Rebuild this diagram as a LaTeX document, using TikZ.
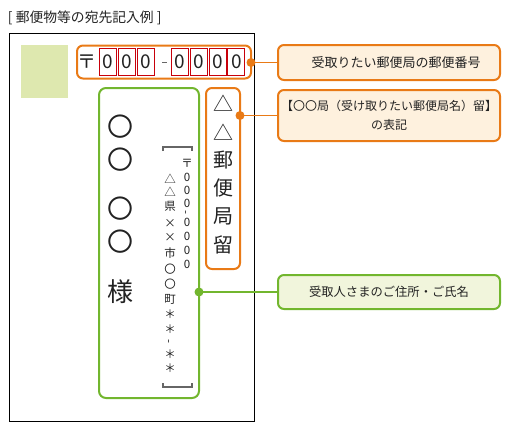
\documentclass[tikz,border=0pt]{standalone}
\usepackage{fontspec}
\setmainfont{Noto Sans CJK JP}
\definecolor{org}{HTML}{E97A16}
\definecolor{orgfill}{HTML}{FEF1DE}
\definecolor{grn}{HTML}{72B62E}
\definecolor{grnfill}{HTML}{F1F5DC}
\definecolor{stampc}{HTML}{DEE8AF}
\definecolor{redbox}{HTML}{C8000A}
\definecolor{txt}{HTML}{222222}
\definecolor{brk}{HTML}{666666}
\tikzset{
  box/.style={inner sep=0pt, outer sep=0pt},
  callout/.style={box, rounded corners=6pt, line width=2pt, minimum width=222pt, align=center, text=txt, font=\fontsize{12.3}{19}\selectfont},
  digitbox/.style={box, draw=redbox, line width=0.9pt, minimum width=17pt, minimum height=27pt, text=txt, font=\fontsize{19}{19}\selectfont},
  vchar/.style={box, text=txt, font=\fontsize{20}{20}\selectfont},
  bigchar/.style={box, text=txt, font=\fontsize{26}{26}\selectfont},
  addr/.style={box, text=txt, font=\fontsize{11.5}{11.5}\selectfont},
  dotc/.style={circle, inner sep=0pt, minimum size=9pt},
  conn/.style={line width=1.6pt}
}
\begin{document}
\begin{tikzpicture}[x=1pt,y=-1pt]
\useasboundingbox (0,0) rectangle (505,429);

% title
\node[box, anchor=west, text=txt, font=\fontsize{13.8}{14}\selectfont] (title) at (8,18) {[ 郵便物等の宛先記入例 ]};

% envelope
\node[box, draw=black, line width=1pt, minimum width=245pt, minimum height=388pt, anchor=north west] (env) at (9,33) {};

% stamp
\node[box, fill=stampc, minimum width=47pt, minimum height=53pt, anchor=north west] (stamp) at (21,45) {};

% postcode box
\node[box, draw=org, line width=2pt, rounded corners=6pt, minimum width=174pt, minimum height=33pt, anchor=north west] (pc) at (77,45.5) {};
\node[box, text=txt, font=\fontsize{19}{19}\selectfont] (yubin) at (87,62) {〒};
\foreach \x [count=\i] in {108,126.8,145.6,180,198.8,217.6,236.4}
  \node[digitbox] (d\i) at (\x,61.5) {0};
\draw[brk, line width=1.3pt] (d3.east) ++(8,1) coordinate (dashA) -- ++(5,0) coordinate (dashB);

% vertical orange box
\node[box, draw=org, line width=2pt, rounded corners=6pt, minimum width=34pt, minimum height=181pt, anchor=north west] (vbox) at (206,88) {};
\foreach \c/\y [count=\i] in {△/103,△/132,郵/160,便/188,局/216,留/245}
  \node[vchar] (v\i) at (223,\y) {\c};

% green box
\node[box, draw=grn, line width=2pt, rounded corners=7pt, minimum width=100pt, minimum height=310pt, anchor=north west] (gbox) at (99,88) {};
\foreach \c/\y [count=\i] in {〇/127,〇/160,〇/209,〇/242,様/292}
  \node[bigchar] (b\i) at (120,\y) {\c};

% address: right column (postcode)
\foreach \c/\y [count=\i] in {〒/163,0/177,0/190,0/203,0/222,0/236,0/250,0/264}
  \node[addr] (r\i) at (187,\y) {\c};
\node[addr, rotate=90] (rdash) at (187,212.5) {-};

% address: left column
\foreach \c/\y [count=\i] in {△/179,△/192,県/206,×/223,×/237,市/253,〇/269,〇/284,町/299,＊/314,＊/329,＊/354,＊/368}
  \node[addr] (l\i) at (170,\y) {\c};
\node[addr, rotate=90] (ldash) at (170,341.5) {-};

% brackets
\draw[brk, line width=1.3pt] (163,151) coordinate (bt1) -- (163,147) -- (192,147) -- (192,151) coordinate (bt2);
\draw[brk, line width=1.3pt] (163,383) coordinate (bb1) -- (163,387) -- (192,387) -- (192,383) coordinate (bb2);

% callouts
\node[callout, draw=org, fill=orgfill, minimum height=35pt, font=\fontsize{13}{19}\selectfont] (c1) at (389,62.5) {\hspace{14pt}受取りたい郵便局の郵便番号};
\node[callout, draw=org, fill=orgfill, minimum height=51pt, font=\fontsize{12}{19}\selectfont] (c2) at (389,115.5) {【〇〇局（受け取りたい郵便局名）留】\\の表記};
\node[callout, draw=grn, fill=grnfill, minimum height=34pt] (c3) at (389,292) {受取人さまのご住所・ご氏名};

% connectors
\coordinate (p1) at (pc.east |- c1.west);
\coordinate (p2) at (vbox.east |- c2.west);
\coordinate (p3) at (gbox.east |- c3.west);
\draw[org, conn] (p1) -- (c1.west);
\draw[org, conn] (p2) -- (c2.west);
\draw[grn, conn] (p3) -- (c3.west);
\node[dotc, fill=org] (dot1) at (p1) {};
\node[dotc, fill=org] (dot2) at (p2) {};
\node[dotc, fill=grn] (dot3) at (p3) {};
\end{tikzpicture}
\end{document}
